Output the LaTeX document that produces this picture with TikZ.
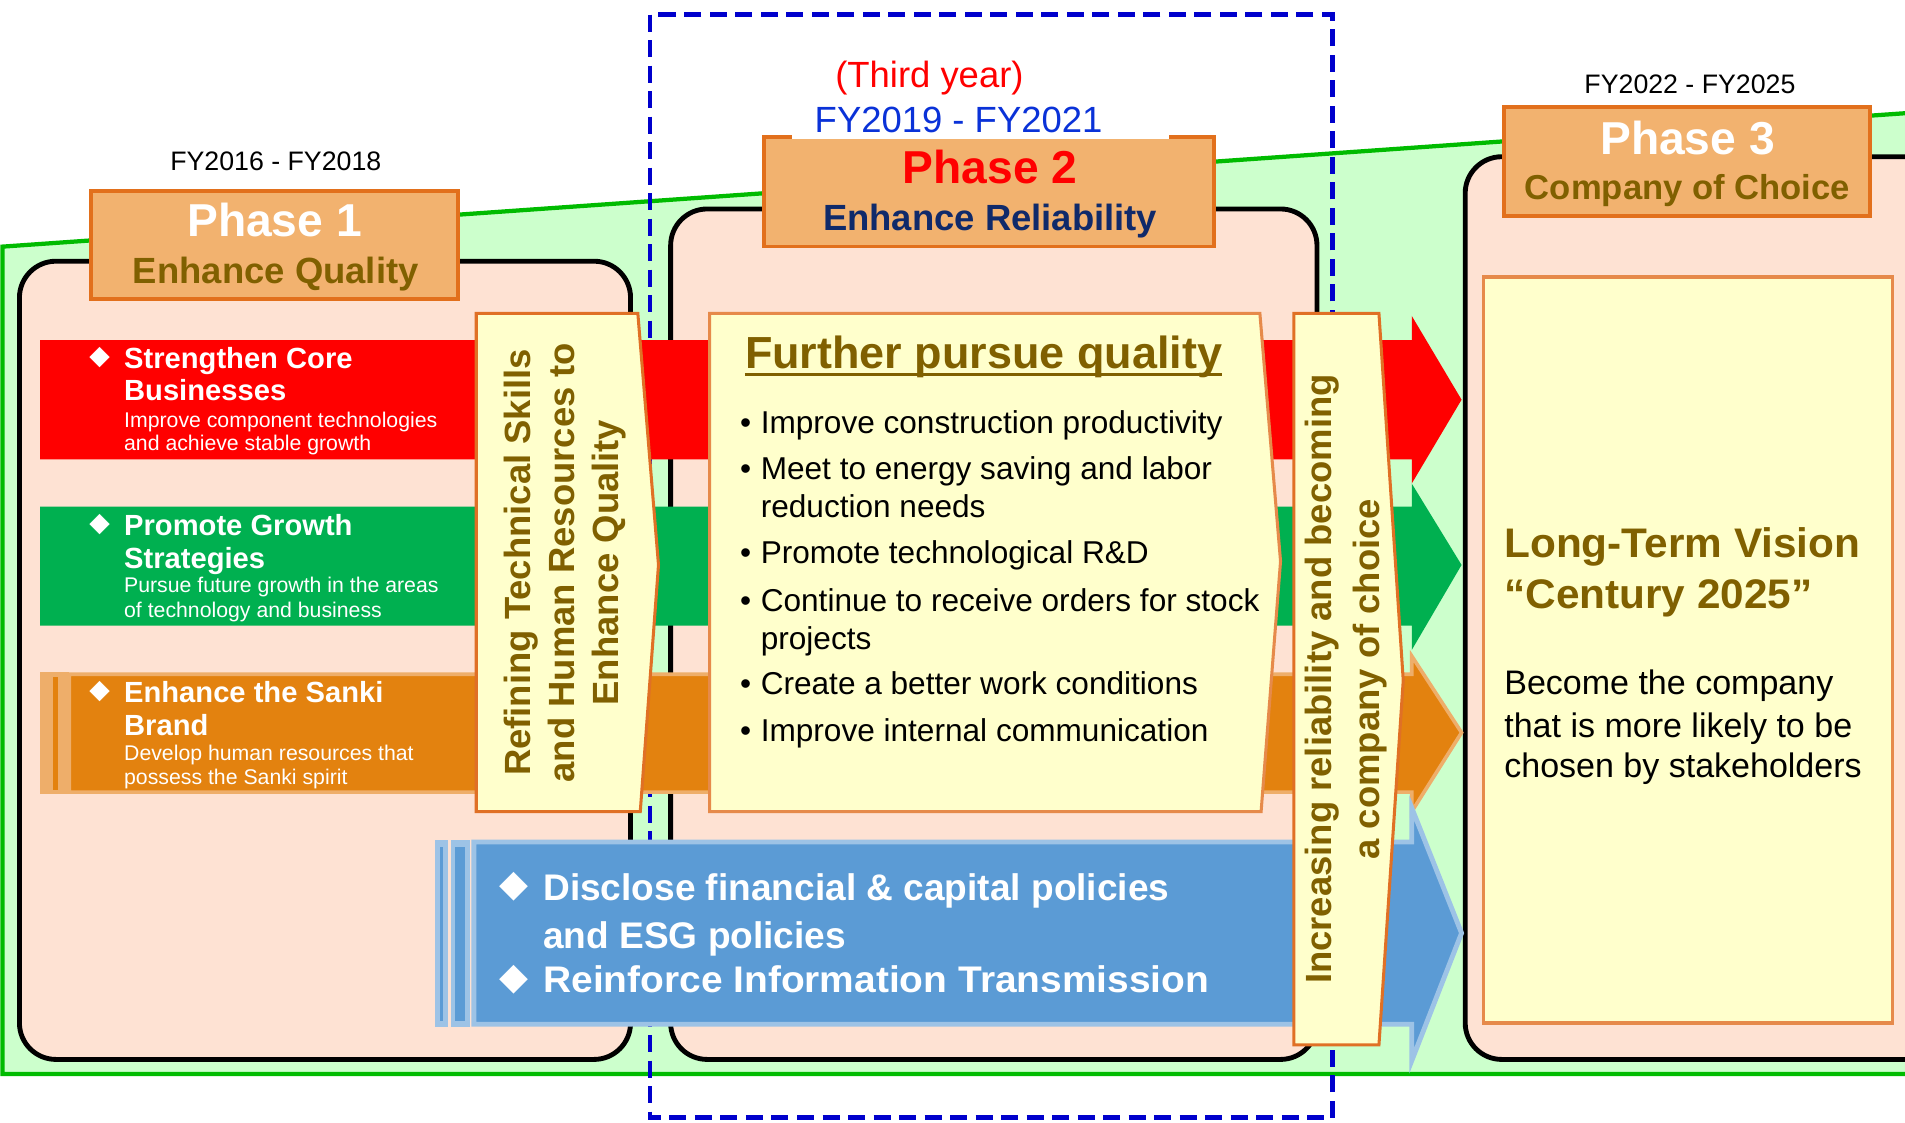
\documentclass[tikz,border=0pt]{standalone}
\usepackage{fontspec}
\setmainfont{Liberation Sans}
\newfontfamily\djv{DejaVu Sans}
\definecolor{bgg}{HTML}{CCFFCC}
\definecolor{bgline}{HTML}{00BB00}
\definecolor{panelc}{HTML}{FEE2D3}
\definecolor{phasec}{HTML}{F2B26F}
\definecolor{phasebd}{HTML}{E2701C}
\definecolor{dashblue}{HTML}{0000CC}
\definecolor{bred}{HTML}{FF0000}
\definecolor{bgreen}{HTML}{00B050}
\definecolor{borange}{HTML}{E3820F}
\definecolor{lorange}{HTML}{EEAE6A}
\definecolor{bblue}{HTML}{5B9BD5}
\definecolor{lblue}{HTML}{9DC3E6}
\definecolor{ylw}{HTML}{FFFFCC}
\definecolor{chevbd}{HTML}{E07025}
\definecolor{visbd}{HTML}{E68A4A}
\definecolor{olive}{HTML}{806000}
\definecolor{navy}{HTML}{102A6A}
\definecolor{fyblue}{HTML}{0A32D8}
\newcommand\fsz[1]{\fontsize{#1}{#1}\selectfont}
\begin{document}
\begin{tikzpicture}[x=1pt,y=-1pt,
  panel/.style={fill=panelc,draw=black,line width=4pt,rounded corners=30pt},
  phasebox/.style={fill=phasec,draw=phasebd,line width=3pt},
  ybox/.style={fill=ylw,draw=chevbd,line width=2.5pt,line join=miter},
  lbl/.style={inner sep=0pt,anchor=base},
  lft/.style={inner sep=0pt,anchor=base west},
  bandhead/.style={lft,text=white,font=\bfseries\fsz{24}},
  bandsub/.style={lft,text=white,font=\fsz{17.5}},
  dia/.style={inner sep=0pt,anchor=center,text=white,font=\djv\fsz{22}},
  bul/.style={lft,font=\fsz{26}},
]
\clip (0,0) rectangle (1568,924);
\fill[white] (0,0) rectangle (1568,924);
% background
\filldraw[fill=bgg,draw=bgline,line width=3.5pt] (2,884) -- (2,203) -- (1585,92) -- (1585,884) -- cycle;
% panels
\draw[panel] (16,215) rectangle (519,872);
\draw[panel] (552,172) rectangle (1084,872);
\draw[panel] (1206,129) rectangle (1600,872);
% dashed frame
\draw[dashblue,line width=4pt,dash pattern=on 14pt off 7pt] (535,12) rectangle (1097,920);
% phase boxes
\draw[phasebox] (75,157) rectangle (377,246);
\draw[phasebox] (629,113) rectangle (999,203);
\draw[phasebox] (1238,88) rectangle (1539,178);
\fill[white] (652,78) rectangle (962,114.6);
% bands
\fill[bred] (33,280) -- (1162,280) -- (1162,260) -- (1203,329) -- (1162,398) -- (1162,378) -- (33,378) -- cycle;
\fill[bgreen] (33,417) -- (1162,417) -- (1162,398) -- (1203,465) -- (1162,535) -- (1162,515) -- (33,515) -- cycle;
\filldraw[fill=borange,draw=lorange,line width=3pt] (57,555) -- (1162,555) -- (1162,540) -- (1203,603) -- (1162,668) -- (1162,652) -- (57,652) -- cycle;
\fill[lorange] (33,553.5) rectangle (57,653.5);
\fill[borange] (44,557) rectangle (48,650);
\filldraw[fill=bblue,draw=lblue,line width=4pt] (390,693) -- (1162,693) -- (1162,665) -- (1203,768) -- (1162,873) -- (1162,843) -- (390,843) -- cycle;
\fill[lblue] (358,691) rectangle (369,845);
\fill[bblue] (362,697) rectangle (364.6,840);
\fill[lblue] (371,691) rectangle (387,845);
\fill[bblue] (374.5,697) rectangle (383,840);
% yellow shapes
\draw[ybox] (392,258) -- (525,258) -- (542,465) -- (527,668) -- (392,668) -- cycle;
\draw[ybox,draw=visbd] (584,258) -- (1037,258) -- (1054,462) -- (1038,668) -- (584,668) -- cycle;
\draw[ybox] (1065,258) -- (1135,258) -- (1155,560) -- (1135,860) -- (1065,860) -- cycle;
\draw[fill=ylw,draw=visbd,line width=2.5pt] (1221,228) rectangle (1558,842);
% header labels
\node[lbl,font=\fsz{22}] (fy1) at (227,140) {FY2016 - FY2018};
\node[lbl,font=\fsz{30},text=red] (third) at (765,72) {(Third year)};
\node[lbl,font=\fsz{30},text=fyblue] (fy2) at (789,109) {FY2019 - FY2021};
\node[lbl,font=\fsz{22}] (fy3) at (1391,77) {FY2022 - FY2025};
% phase titles
\node[lbl,font=\bfseries\fsz{38},text=white] (p1) at (226,195) {Phase 1};
\node[lbl,font=\bfseries\fsz{30},text=olive] (p1s) at (227,233) {Enhance Quality};
\node[lbl,font=\bfseries\fsz{38},text=red] (p2) at (815,151) {Phase 2};
\node[lbl,font=\bfseries\fsz{30},text=navy] (p2s) at (815,190) {Enhance Reliability};
\node[lbl,font=\bfseries\fsz{38},text=white] (p3) at (1389,127) {Phase 3};
\node[lbl,font=\bfseries\fsz{28.5},text=olive] (p3s) at (1389,164) {Company of Choice};
% band texts
\node[dia] (d1) at (82,294) {◆};
\node[bandhead] (b1a) at (102,303) {Strengthen Core};
\node[bandhead] (b1b) at (102,330) {Businesses};
\node[bandsub] (b1c) at (102,352) {Improve component technologies};
\node[bandsub] (b1d) at (102,371) {and achieve stable growth};
\node[dia] (d2) at (82,432) {◆};
\node[bandhead] (b2a) at (102,441) {Promote Growth};
\node[bandhead] (b2b) at (102,468) {Strategies};
\node[bandsub] (b2c) at (102,488) {Pursue future growth in the areas};
\node[bandsub] (b2d) at (102,508) {of technology and business};
\node[dia] (d3) at (82,569) {◆};
\node[bandhead] (b3a) at (102,578) {Enhance the Sanki};
\node[bandhead] (b3b) at (102,605) {Brand};
\node[bandsub] (b3c) at (102,626) {Develop human resources that};
\node[bandsub] (b3d) at (102,646) {possess the Sanki spirit};
\node[dia,font=\djv\fsz{31}] (d4) at (423,730) {◆};
\node[lft,text=white,font=\bfseries\fsz{30.5}] (b4a) at (447,741) {Disclose financial \& capital policies};
\node[lft,text=white,font=\bfseries\fsz{30.5}] (b4b) at (447,781) {and ESG policies};
\node[dia,font=\djv\fsz{31}] (d5) at (423,806) {◆};
\node[lft,text=white,font=\bfseries\fsz{30.5}] (b4c) at (447,817) {\scalebox{1.05}[1]{Reinforce Information Transmission}};
% chevron texts
\node[rotate=90,align=center,inner sep=0pt,text=olive,font=\bfseries\fontsize{30}{36}\selectfont] (c1) at (465,463) {Refining Technical Skills\\and Human Resources to\\Enhance Quality};
\node[rotate=90,align=center,inner sep=0pt,text=olive,font=\bfseries\fontsize{30}{39}\selectfont] (c2) at (1108,559) {Increasing reliability and becoming\\a company of choice};
% central box
\node[lft,text=olive,font=\bfseries\fsz{37}] (title) at (613,303) {Further pursue quality};
\draw[olive,line width=2.5pt] ([yshift=-5pt]title.base west) -- ([yshift=-5pt]title.base east);
\node[lft,font=\fsz{26}] (u1) at (609,357) {•};
\node[bul] (t1) at (626,357) {Improve construction productivity};
\node[lft,font=\fsz{26}] (u2) at (609,395) {•};
\node[bul] (t2) at (626,395) {Meet to energy saving and labor};
\node[bul] (t2b) at (626,426) {reduction needs};
\node[lft,font=\fsz{26}] (u3) at (609,464) {•};
\node[bul] (t3) at (626,464) {Promote technological R\&D};
\node[lft,font=\fsz{26}] (u4) at (609,503) {•};
\node[bul] (t4) at (626,503) {Continue to receive orders for stock};
\node[bul] (t4b) at (626,535) {projects};
\node[lft,font=\fsz{26}] (u5) at (609,572) {•};
\node[bul] (t5) at (626,572) {Create a better work conditions};
\node[lft,font=\fsz{26}] (u6) at (609,610) {•};
\node[bul] (t6) at (626,610) {Improve internal communication};
% vision box
\node[lft,text=olive,font=\bfseries\fsz{34}] (v1) at (1238,459) {\scalebox{1.025}[1]{Long-Term Vision}};
\node[lft,text=olive,font=\bfseries\fsz{34}] (v2) at (1238,501) {\scalebox{1.025}[1]{“Century 2025”}};
\node[lft,font=\fsz{28}] (v3) at (1238,572) {Become the company};
\node[lft,font=\fsz{28}] (v4) at (1238,607) {that is more likely to be};
\node[lft,font=\fsz{28}] (v5) at (1238,640) {chosen by stakeholders};
\end{tikzpicture}
\end{document}
